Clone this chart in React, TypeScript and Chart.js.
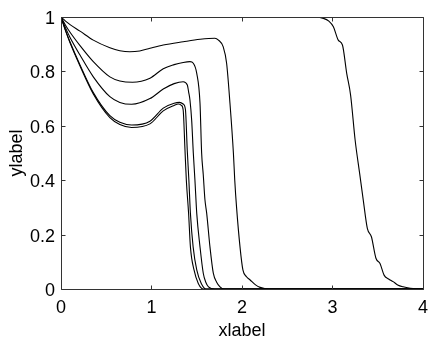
import React, { useEffect, useRef } from "react";
import { Chart, registerables } from "chart.js";

Chart.register(...registerables);

// ---- tick values & labels ----
const X_TICKS = [0, 1, 2, 3, 4];
const Y_TICKS = [0, 0.2, 0.4, 0.6, 0.8, 1];
const X_LABEL = "xlabel";
const Y_LABEL = "ylabel";

// ---- series ----
const xA = [0, 2.5, 2.8, 2.9, 2.96, 3.01, 3.064, 3.11, 3.157, 3.2, 3.25, 3.3, 3.34, 3.385, 3.43, 3.48, 3.525, 3.57, 3.62, 3.67, 3.72, 3.78, 3.86, 3.97, 4];
const yA = [1, 1, 0.999, 0.995, 0.985, 0.964, 0.915, 0.897, 0.793, 0.713, 0.548, 0.425, 0.327, 0.223, 0.192, 0.113, 0.094, 0.051, 0.037, 0.027, 0.015, 0.008, 0.003, 0, 0];

const xB = [0, 0.05, 0.1, 0.21, 0.357, 0.54, 0.65, 0.76, 0.87, 0.983, 1.13, 1.35, 1.536, 1.7, 1.74, 1.793, 1.83, 1.867, 1.905, 1.92, 1.94, 1.978, 2.01, 2.05, 2.09, 2.15, 2.2, 2.3, 4];
const yB = [1, 0.985, 0.972, 0.948, 0.915, 0.887, 0.876, 0.872, 0.875, 0.885, 0.897, 0.909, 0.918, 0.922, 0.915, 0.89, 0.83, 0.683, 0.5, 0.4, 0.3, 0.155, 0.07, 0.045, 0.033, 0.015, 0.006, 0, 0];

const xC = [0, 0.05, 0.1, 0.21, 0.357, 0.54, 0.65, 0.79, 0.983, 1.13, 1.25, 1.35, 1.425, 1.462, 1.5, 1.536, 1.554, 1.572, 1.59, 1.61, 1.646, 1.683, 1.72, 1.757, 1.8, 4];
const yC = [1, 0.97, 0.944, 0.895, 0.836, 0.78, 0.765, 0.76, 0.775, 0.81, 0.825, 0.833, 0.836, 0.83, 0.793, 0.683, 0.5, 0.42, 0.33, 0.278, 0.155, 0.058, 0.025, 0.008, 0, 0];

const xD = [0, 0.05, 0.1, 0.21, 0.357, 0.54, 0.65, 0.78, 0.983, 1.13, 1.25, 1.35, 1.396, 1.41, 1.425, 1.444, 1.462, 1.48, 1.5, 1.536, 1.572, 1.6, 1.63, 1.7, 4];
const yD = [1, 0.96, 0.925, 0.86, 0.78, 0.707, 0.686, 0.679, 0.7, 0.735, 0.755, 0.762, 0.75, 0.725, 0.695, 0.62, 0.5, 0.4, 0.278, 0.155, 0.058, 0.025, 0.008, 0, 0];

const xE = [0, 0.05, 0.1, 0.21, 0.357, 0.54, 0.65, 0.78, 0.983, 1.13, 1.25, 1.31, 1.35, 1.375, 1.395, 1.413, 1.43, 1.46, 1.5, 1.55, 1.6, 4];
const yE = [1, 0.951, 0.908, 0.824, 0.722, 0.637, 0.613, 0.603, 0.617, 0.665, 0.683, 0.686, 0.68, 0.66, 0.511, 0.4, 0.278, 0.155, 0.07, 0.02, 0, 0];

const xF = [0, 0.05, 0.1, 0.21, 0.357, 0.54, 0.65, 0.78, 0.983, 1.13, 1.25, 1.297, 1.33, 1.35, 1.37, 1.385, 1.41, 1.43, 1.47, 1.517, 1.57, 4];
const yF = [1, 0.95, 0.905, 0.82, 0.717, 0.63, 0.605, 0.594, 0.607, 0.655, 0.675, 0.68, 0.675, 0.658, 0.511, 0.4, 0.278, 0.155, 0.07, 0.02, 0, 0];

const SERIES = [
  [xA, yA],
  [xB, yB],
  [xC, yC],
  [xD, yD],
  [xE, yE],
  [xF, yF],
];

const AXIS_COLOR = "#333333";
const FONT_FAMILY = "'Liberation Sans', Arial, Helvetica, sans-serif";
const TICK_LEN = 4;

const fmt = (v: any) => String(Math.round(Number(v) * 10) / 10);

const boxPlugin = {
  id: "matlabBox",
  afterDatasetsDraw(chart: any) {
    const { ctx, chartArea } = chart;
    const { left, right, top, bottom } = chartArea;
    const xs = chart.scales.x;
    const ys = chart.scales.y;
    const L = Math.round(left) + 0.5;
    const R = Math.round(right) + 0.5;
    const T = Math.round(top) + 0.5;
    const B = Math.round(bottom) + 0.5;
    ctx.save();
    ctx.strokeStyle = AXIS_COLOR;
    ctx.lineWidth = 1;
    ctx.beginPath();
    ctx.rect(L, T, R - L, B - T);
    ctx.stroke();
    ctx.beginPath();
    X_TICKS.forEach((v) => {
      const px = Math.round(xs.getPixelForValue(v)) + 0.5;
      ctx.moveTo(px, B);
      ctx.lineTo(px, B - TICK_LEN);
      ctx.moveTo(px, T);
      ctx.lineTo(px, T + TICK_LEN);
    });
    Y_TICKS.forEach((v) => {
      const py = Math.round(ys.getPixelForValue(v)) + 0.5;
      ctx.moveTo(L, py);
      ctx.lineTo(L + TICK_LEN, py);
      ctx.moveTo(R, py);
      ctx.lineTo(R - TICK_LEN, py);
    });
    ctx.stroke();
    ctx.restore();
  },
};

export default function App() {
  const canvasRef = useRef<HTMLCanvasElement | null>(null);

  useEffect(() => {
    if (!canvasRef.current) return;
    const datasets = SERIES.map(([xs, ys]) => ({
      data: xs.map((x, i) => ({ x, y: ys[i] })),
      borderColor: "#000000",
      borderWidth: 1.1,
      pointRadius: 0,
      fill: false,
      cubicInterpolationMode: "monotone" as const,
    }));

    const chart = new Chart(canvasRef.current, {
      type: "line",
      data: { datasets },
      options: {
        animation: false,
        responsive: false,
        devicePixelRatio: 1,
        layout: { padding: { left: 0, top: 17, right: 13, bottom: 0 } },
        plugins: {
          legend: { display: false },
          tooltip: { enabled: false },
        },
        scales: {
          x: {
            type: "linear",
            min: 0,
            max: 4,
            grid: { display: false, drawTicks: false },
            border: { display: false },
            afterBuildTicks: (s: any) => {
              s.ticks = X_TICKS.map((v) => ({ value: v }));
            },
            afterFit: (s: any) => {
              s.height = 53;
            },
            ticks: {
              padding: 8,
              color: "#000000",
              maxRotation: 0,
              callback: fmt,
              font: { family: FONT_FAMILY, size: 18 },
            },
            title: {
              display: true,
              text: X_LABEL,
              color: "#000000",
              padding: { top: 0, bottom: 0 },
              font: { family: FONT_FAMILY, size: 18 },
            },
          },
          y: {
            type: "linear",
            min: 0,
            max: 1,
            grid: { display: false, drawTicks: false },
            border: { display: false },
            afterBuildTicks: (s: any) => {
              s.ticks = Y_TICKS.map((v) => ({ value: v }));
            },
            afterFit: (s: any) => {
              s.width = 61;
            },
            ticks: {
              padding: 6,
              labelOffset: 2,
              color: "#000000",
              callback: fmt,
              font: { family: FONT_FAMILY, size: 18 },
            },
            title: {
              display: true,
              text: Y_LABEL,
              color: "#000000",
              padding: { top: 6, bottom: 0 },
              font: { family: FONT_FAMILY, size: 18 },
            },
          },
        },
      },
      plugins: [boxPlugin],
    });
    return () => chart.destroy();
  }, []);

  return (
    <div style={{ position: "fixed", left: 0, top: 0, width: 436, height: 342, background: "#ffffff" }}>
      <canvas ref={canvasRef} width={436} height={342} style={{ width: 436, height: 342, display: "block" }} />
    </div>
  );
}
